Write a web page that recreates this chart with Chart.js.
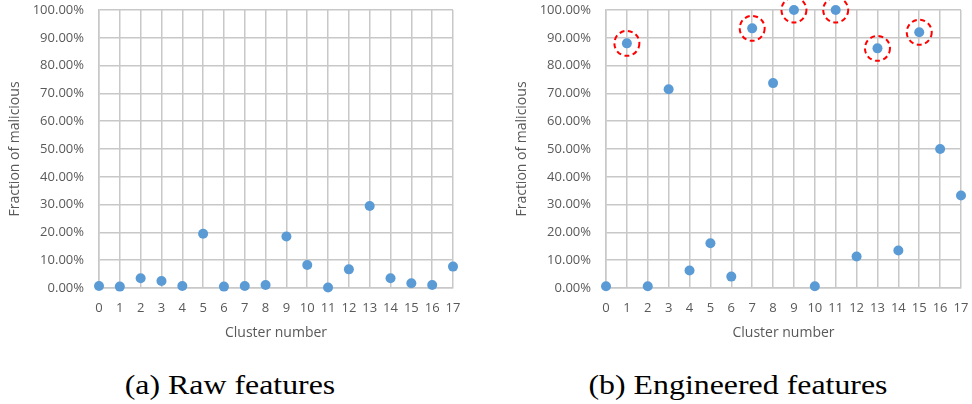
<!DOCTYPE html>
<html>
<head>
<meta charset="utf-8">
<script src="https://cdn.jsdelivr.net/npm/chart.js@4.4.1/dist/chart.umd.min.js"></script>
<style>
  body { margin: 0; background: #fff; width: 972px; height: 404px; position: relative; overflow: hidden; }
  canvas { position: absolute; top: 0; }
  #raw { left: 0; }
  #eng { left: 486px; }
  .cap {
    position: absolute; top: 366px; line-height: 38px;
    font-family: "Liberation Serif", serif; font-size: 27px; color: #000;
    white-space: nowrap; transform: translateX(-50%) scaleX(1.18);
  }
</style>
</head>
<body>
<canvas id="raw" width="486" height="350"></canvas>
<canvas id="eng" width="486" height="350"></canvas>
<div class="cap" style="left:230px">(a) Raw features</div>
<div class="cap" style="left:738px">(b) Engineered features</div>
<script>
// cluster ids on the x axis
const clusters = ['0', '1', '2', '3', '4', '5', '6', '7', '8', '9', '10', '11', '12', '13', '14', '15', '16', '17'];
// fraction of malicious per cluster, in percent
const rawFraction = [0.7, 0.5, 3.5, 2.5, 0.7, 19.5, 0.5, 0.7, 1.1, 18.5, 8.3, 0.2, 6.7, 29.5, 3.5, 1.7, 1.1, 7.7];
const engineeredFraction = [0.6, 88.0, 0.6, 71.5, 6.3, 16.1, 4.1, 93.4, 73.7, 100, 0.6, 100, 11.3, 86.2, 13.5, 92.0, 50.0, 33.3];
// clusters marked with a red dashed ring in (b)
const circledClusters = ['1', '7', '9', '11', '13', '15'];

const gridColor = '#c8c8c8';
const textColor = '#595959';
const font = 'Open Sans';

const rings = {
  id: 'rings',
  afterDatasetsDraw(chart) {
    const meta = chart.getDatasetMeta(0);
    const ctx = chart.ctx;
    ctx.save();
    ctx.strokeStyle = '#ff0000';
    ctx.lineWidth = 2;
    ctx.setLineDash([5, 3.5]);
    circledClusters.forEach((c) => {
      const pt = meta.data[clusters.indexOf(c)];
      ctx.beginPath();
      ctx.arc(pt.x, pt.y, 12.5, 0, Math.PI * 2);
      ctx.stroke();
    });
    ctx.restore();
  },
};

// no automatic label overhang padding, the layout padding decides
const noPad = (s) => {
  s.paddingTop = 0;
  s.paddingBottom = 0;
  s.paddingLeft = 0;
  s.paddingRight = 0;
};

function makeChart(id, values, padLeft, padRight, plugins) {
  return new Chart(document.getElementById(id), {
    type: 'line',
    data: {
      labels: clusters,
      datasets: [{
        data: values,
        showLine: false,
        pointRadius: 5,
        pointHoverRadius: 5,
        pointBackgroundColor: '#5b9bd5',
        pointBorderWidth: 0,
        clip: false,
      }],
    },
    options: {
      responsive: false,
      animation: false,
      layout: { padding: { top: 10, left: padLeft, right: padRight, bottom: 0 } },
      plugins: { legend: { display: false }, tooltip: { enabled: false } },
      scales: {
        x: {
          offset: false,
          grid: { color: gridColor, lineWidth: 1.5, drawTicks: false, offset: false },
          border: { color: gridColor, width: 1.5 },
          ticks: { color: textColor, font: { family: font, size: 13 }, padding: 12, maxRotation: 0, autoSkip: false },
          title: { display: true, text: 'Cluster number', color: textColor, font: { family: font, size: 14 }, padding: { top: 0, bottom: 8.6 } },
          afterFit: (s) => { s.height = 62; noPad(s); },
        },
        y: {
          min: 0,
          max: 100,
          grid: { color: gridColor, lineWidth: 1.5, drawTicks: false },
          border: { color: gridColor, width: 1.5 },
          ticks: {
            stepSize: 10,
            color: textColor,
            font: { family: font, size: 13 },
            padding: 15,
            callback: (v) => v.toFixed(2) + '%',
          },
          title: { display: true, text: 'Fraction of malicious', color: textColor, font: { family: font, size: 14 }, padding: { top: 6.6, bottom: 0 } },
          afterFit: (s) => { s.width = 99; noPad(s); },
        },
      },
    },
    plugins: plugins,
  });
}

makeChart('raw', rawFraction, 0, 33, []);
makeChart('eng', engineeredFraction, 21, 11, [rings]);
</script>
</body>
</html>
